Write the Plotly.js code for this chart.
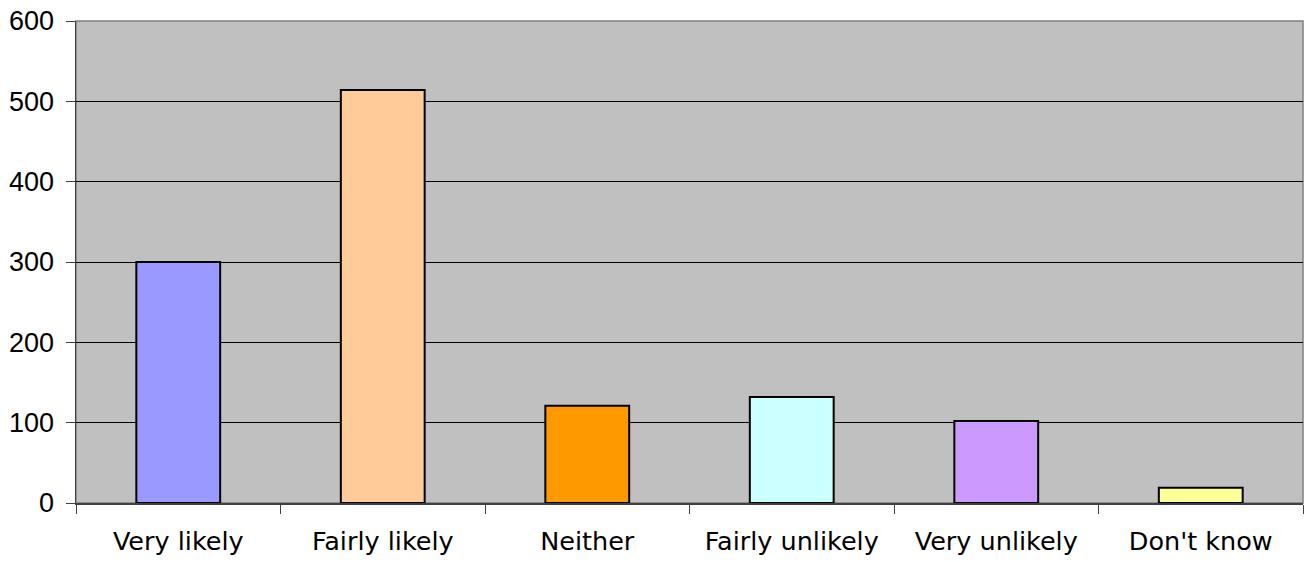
<!DOCTYPE html>
<html>
<head>
<meta charset="utf-8">
<script src="https://cdn.plot.ly/plotly-3.0.1.min.js"></script>
<style>html,body{margin:0;padding:0;background:#fff;}#chart{width:1313px;height:562px;}</style>
</head>
<body>
<div id="chart"></div>
<script>
const categories = ["Very likely", "Fairly likely", "Neither", "Fairly unlikely", "Very unlikely", "Don't know"];
const values = [300, 514, 121, 132, 102, 19];
const barColors = ["#9999FF", "#FFCC99", "#FF9900", "#CCFFFF", "#CC99FF", "#FFFF99"];
const yTicks = [0, 100, 200, 300, 400, 500, 600];

const trace = {
  type: "bar",
  x: categories,
  y: values,
  marker: {color: barColors, line: {color: "#000000", width: 2}},
  hoverinfo: "x+y"
};

const layout = {
  width: 1313,
  height: 562,
  margin: {l: 76, r: 10, t: 21, b: 59},
  paper_bgcolor: "#FFFFFF",
  plot_bgcolor: "#C0C0C0",
  bargap: 0.59,
  showlegend: false,
  font: {family: "Liberation Sans, Arial, sans-serif", size: 27, color: "#000000"},
  xaxis: {
    type: "category",
    tickson: "boundaries",
    ticks: "outside",
    ticklen: 9,
    tickwidth: 1,
    tickcolor: "#404040",
    showline: true,
    linecolor: "#404040",
    linewidth: 1.5,
    showgrid: false,
    zeroline: false,
    tickfont: {family: "DejaVu Sans, sans-serif", size: 25.5},
    ticklabelstandoff: 15
  },
  yaxis: {
    range: [0, 600],
    tickvals: yTicks,
    ticktext: yTicks.map(String),
    ticks: "outside",
    ticklen: 9,
    tickwidth: 1,
    tickcolor: "#404040",
    showline: true,
    linecolor: "#404040",
    linewidth: 1.5,
    showgrid: true,
    gridcolor: "#000000",
    gridwidth: 1,
    zeroline: false,
    tickfont: {size: 27},
    ticklabelstandoff: 6
  },
  shapes: [{
    type: "rect", xref: "paper", yref: "paper", x0: 0, x1: 1, y0: 0, y1: 1,
    line: {color: "#808080", width: 1.5}, fillcolor: "rgba(0,0,0,0)", layer: "below"
  }]
};

Plotly.newPlot("chart", [trace], layout, {displayModeBar: false, staticPlot: true});
</script>
</body>
</html>
